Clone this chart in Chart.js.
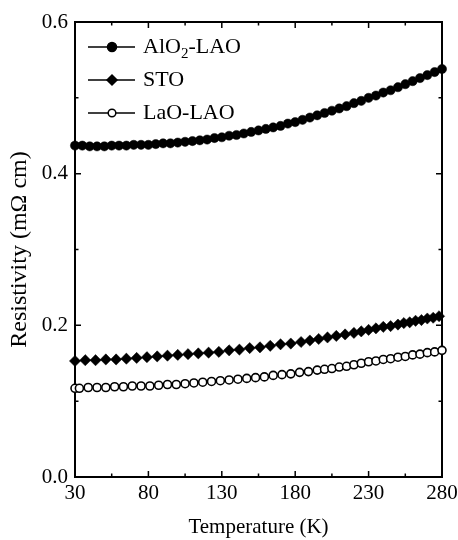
<!DOCTYPE html>
<html>
<head>
<meta charset="utf-8">
<script src="https://cdn.jsdelivr.net/npm/chart.js@4.4.0/dist/chart.umd.min.js"></script>
<style>
  html, body { margin: 0; padding: 0; background: #fff; }
  #wrap { width: 458px; height: 540px; }
</style>
</head>
<body>
<div id="wrap"><canvas id="myChart" width="458" height="540"></canvas></div>
<script>
// temperature (K) and resistivity (mOhm cm)
const tempAlO2 = [30, 35, 40, 45, 50, 55, 60, 65, 70, 75, 80, 85, 90, 95, 100, 105, 110, 115, 120, 125,
  130, 135, 140, 145, 150, 155, 160, 165, 170, 175, 180, 185, 190, 195, 200, 205, 210, 215, 220, 225,
  230, 235, 240, 245, 250, 255, 260, 265, 270, 275, 280];
const rhoAlO2 = [0.437, 0.437, 0.436, 0.436, 0.436, 0.437, 0.437, 0.437, 0.438, 0.438, 0.438, 0.439, 0.440, 0.440, 0.441, 0.442, 0.443, 0.444, 0.445, 0.447,
  0.448, 0.450, 0.451, 0.453, 0.455, 0.457, 0.459, 0.461, 0.463, 0.466, 0.468, 0.471, 0.474, 0.477, 0.480, 0.483, 0.486, 0.489, 0.493, 0.496,
  0.500, 0.503, 0.507, 0.510, 0.514, 0.518, 0.522, 0.526, 0.530, 0.534, 0.538];

const tempSTO = [30, 37, 44, 51, 58, 65, 72, 79, 86, 93, 100, 107, 114, 121, 128, 135, 142, 149, 156, 163,
  170, 177, 184, 190, 196, 202, 208, 214, 220, 225, 230, 235, 240, 245, 250, 254, 258, 262, 266, 270, 274, 278];
const rhoSTO = [0.153, 0.154, 0.154, 0.155, 0.155, 0.156, 0.157, 0.158, 0.159, 0.160, 0.161, 0.162, 0.163, 0.164, 0.165, 0.167, 0.168, 0.170, 0.171, 0.173,
  0.175, 0.176, 0.178, 0.180, 0.182, 0.184, 0.186, 0.188, 0.190, 0.192, 0.194, 0.196, 0.198, 0.199, 0.201, 0.203, 0.204, 0.206, 0.207, 0.209, 0.210, 0.212];

const tempLaO = [30, 33, 39, 45, 51, 57, 63, 69, 75, 81, 87, 93, 99, 105, 111, 117, 123, 129, 135, 141,
  147, 153, 159, 165, 171, 177, 183, 189, 195, 200, 205, 210, 215, 220, 225, 230, 235, 240, 245, 250,
  255, 260, 265, 270, 275, 280];
const rhoLaO = [0.117, 0.117, 0.118, 0.118, 0.118, 0.119, 0.119, 0.120, 0.120, 0.120, 0.121, 0.122, 0.122, 0.123, 0.124, 0.125, 0.126, 0.127, 0.128, 0.129,
  0.130, 0.131, 0.132, 0.134, 0.135, 0.136, 0.138, 0.139, 0.141, 0.142, 0.143, 0.145, 0.146, 0.148, 0.150, 0.152, 0.153, 0.155, 0.156, 0.158,
  0.159, 0.161, 0.162, 0.164, 0.165, 0.167];

const xTicks = [30, 80, 130, 180, 230, 280];
const xMinor = [55, 105, 155, 205, 255];
const yTicks = [0.0, 0.2, 0.4, 0.6];
const yMinor = [0.1, 0.3, 0.5];

const serif = "'Liberation Serif', 'DejaVu Serif', serif";

function pts(xs, ys) {
  return xs.map((x, i) => ({ x: x, y: ys[i] }));
}

// frame + inward ticks on all four sides
const frame = {
  id: "frame",
  beforeDatasetsDraw(chart) {
    const { ctx, chartArea: a, scales } = chart;
    ctx.save();
    ctx.strokeStyle = "#000";
    ctx.lineWidth = 2;
    ctx.strokeRect(a.left, a.top, a.right - a.left, a.bottom - a.top);
    ctx.lineWidth = 1.5;
    ctx.beginPath();
    const xt = (v, len) => {
      const px = scales.x.getPixelForValue(v);
      ctx.moveTo(px, a.bottom); ctx.lineTo(px, a.bottom - len);
      ctx.moveTo(px, a.top); ctx.lineTo(px, a.top + len);
    };
    const yt = (v, len) => {
      const py = scales.y.getPixelForValue(v);
      ctx.moveTo(a.left, py); ctx.lineTo(a.left + len, py);
      ctx.moveTo(a.right, py); ctx.lineTo(a.right - len, py);
    };
    xTicks.forEach(v => xt(v, 6));
    xMinor.forEach(v => xt(v, 3.5));
    yTicks.forEach(v => yt(v, 6));
    yMinor.forEach(v => yt(v, 3.5));
    ctx.stroke();
    ctx.restore();
  }
};

// legend drawn by hand so the subscript can be shown
const legendRows = [
  { main: "AlO", sub: "2", rest: "-LAO", style: "circle", fill: "#000", r: 4.5 },
  { main: "STO", sub: "", rest: "", style: "rectRot", fill: "#000", r: 5 },
  { main: "LaO-LAO", sub: "", rest: "", style: "circle", fill: "#fff", r: 3.8 }
];

const legendBox = {
  id: "legendBox",
  afterDraw(chart) {
    const { ctx } = chart;
    ctx.save();
    legendRows.forEach((row, i) => {
      const y = 47 + i * 33;
      ctx.strokeStyle = "#000";
      ctx.lineWidth = 1.5;
      ctx.beginPath();
      ctx.moveTo(88, y); ctx.lineTo(135, y);
      ctx.stroke();
      ctx.fillStyle = row.fill;
      ctx.lineWidth = 1.5;
      Chart.helpers.drawPoint(ctx, { pointStyle: row.style, radius: row.r, rotation: 0, borderWidth: 1.5 }, 112, y);
      ctx.fillStyle = "#000";
      ctx.textBaseline = "middle";
      ctx.font = "22px " + serif;
      let x = 143;
      ctx.fillText(row.main, x, y);
      x += ctx.measureText(row.main).width;
      if (row.sub) {
        ctx.font = "15px " + serif;
        ctx.fillText(row.sub, x, y + 7);
        x += ctx.measureText(row.sub).width;
        ctx.font = "22px " + serif;
      }
      if (row.rest) ctx.fillText(row.rest, x, y);
    });
    ctx.restore();
  }
};

var ctx = document.getElementById("myChart").getContext("2d");
var myChart = new Chart(ctx, {
  type: "scatter",
  data: {
    datasets: [
      {
        label: "AlO2-LAO",
        data: pts(tempAlO2, rhoAlO2),
        showLine: true,
        borderColor: "#000",
        borderWidth: 1,
        pointStyle: "circle",
        pointRadius: 4.6,
        pointBackgroundColor: "#000",
        pointBorderColor: "#000",
        pointBorderWidth: 0.5,
        clip: false
      },
      {
        label: "STO",
        data: pts(tempSTO, rhoSTO),
        showLine: true,
        borderColor: "#000",
        borderWidth: 1,
        pointStyle: "rectRot",
        pointRadius: 5.6,
        pointBackgroundColor: "#000",
        pointBorderColor: "#000",
        pointBorderWidth: 0.5,
        clip: false
      },
      {
        label: "LaO-LAO",
        data: pts(tempLaO, rhoLaO),
        showLine: true,
        borderColor: "#000",
        borderWidth: 1,
        pointStyle: "circle",
        pointRadius: 4,
        pointBackgroundColor: "#fff",
        pointBorderColor: "#000",
        pointBorderWidth: 1.6,
        clip: false
      }
    ]
  },
  options: {
    responsive: false,
    animation: false,
    devicePixelRatio: 1,
    layout: { padding: { top: 22, right: 16, left: 0, bottom: 0 } },
    plugins: {
      legend: { display: false },
      tooltip: { enabled: false }
    },
    scales: {
      x: {
        type: "linear",
        min: 30,
        max: 280,
        afterFit: s => { s.height = 63; s.paddingLeft = 0; s.paddingRight = 0; },
        afterBuildTicks: s => { s.ticks = xTicks.map(v => ({ value: v })); },
        grid: { display: false, drawTicks: false },
        border: { display: false },
        ticks: {
          color: "#000",
          padding: 4,
          maxRotation: 0,
          font: { family: serif, size: 21 }
        },
        title: {
          display: true,
          text: "Temperature (K)",
          color: "#000",
          padding: { top: 0, bottom: 0 },
          font: { family: serif, size: 21 }
        }
      },
      y: {
        min: 0,
        max: 0.6,
        afterFit: s => { s.width = 75; s.paddingTop = 0; s.paddingBottom = 0; },
        afterBuildTicks: s => { s.ticks = yTicks.map(v => ({ value: v })); },
        grid: { display: false, drawTicks: false },
        border: { display: false },
        ticks: {
          color: "#000",
          padding: 7,
          font: { family: serif, size: 21 },
          callback: v => v.toFixed(1)
        },
        title: {
          display: true,
          text: "Resistivity (mΩ cm)",
          color: "#000",
          padding: { top: 5, bottom: 0 },
          font: { family: serif, size: 24 }
        }
      }
    }
  },
  plugins: [frame, legendBox]
});
</script>
</body>
</html>
